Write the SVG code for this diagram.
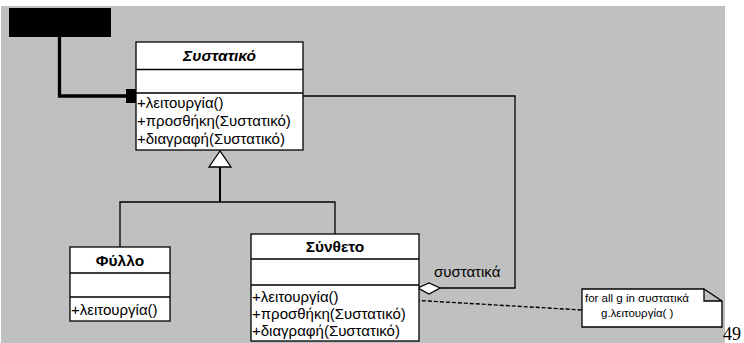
<svg xmlns="http://www.w3.org/2000/svg" width="744" height="343" viewBox="0 0 744 343">
<style>
.box{fill:#fff;stroke:#000;stroke-width:1.3}
.ln{fill:none;stroke:#000;stroke-width:1.3}
.t{font-family:"Liberation Sans",Arial,sans-serif;font-size:15px;fill:#000}
.nm{font-family:"Liberation Sans",Arial,sans-serif;font-size:15.5px;font-weight:bold;fill:#000;text-anchor:middle}
.nt{font-family:"Liberation Sans",Arial,sans-serif;font-size:11.5px;fill:#000}
</style>
<rect x="1" y="6" width="724" height="337" fill="#c0c0c0"/>
<g id="client">
<rect x="9" y="8" width="102" height="29" fill="#000"/>
</g>
<g id="connectors">
<path d="M59.5,37 V96 H130" fill="none" stroke="#000" stroke-width="3.3"/>
<rect x="126" y="89" width="13" height="14" fill="#000"/>
<path class="ln" d="M303,96 H515 V288 H440"/>
<polygon points="418,288 429,283 440,288 429,294" fill="#fff" stroke="#000" stroke-width="1.3"/>
<path d="M220,167 V202" stroke="#000" stroke-width="2" fill="none"/>
<path class="ln" d="M120,247 V202 H335 V234"/>
<polygon points="220,151 209,167 231,167" fill="#fff" stroke="#000" stroke-width="1.3"/>
<path d="M350,296.5 L582,310" stroke="#000" stroke-width="1.4" stroke-dasharray="4,2" fill="none"/>
<text class="t" x="434" y="277" font-size="13">συστατικά</text>
</g>
<g id="component">
<rect class="box" x="136" y="42" width="167" height="108"/>
<path class="ln" d="M136,69.5 H303 M136,93 H303"/>
<text class="nm" x="219.5" y="61" font-style="italic">Συστατικό</text>
<text class="t" x="137" y="108">+λειτουργία()</text>
<text class="t" x="137" y="126">+προσθήκη(Συστατικό)</text>
<text class="t" x="137" y="144">+διαγραφή(Συστατικό)</text>
</g>
<g id="leaf">
<rect class="box" x="70" y="247" width="100" height="74"/>
<path class="ln" d="M70,273 H170 M70,297 H170"/>
<text class="nm" x="120" y="265.5">Φύλλο</text>
<text class="t" x="71" y="314.5">+λειτουργία()</text>
</g>
<g id="composite">
<rect class="box" x="251" y="234" width="168" height="107"/>
<path class="ln" d="M251,259 H419 M251,285 H419"/>
<text class="nm" x="335" y="252">Σύνθετο</text>
<text class="t" x="252" y="301.5">+λειτουργία()</text>
<text class="t" x="252" y="318.5">+προσθήκη(Συστατικό)</text>
<text class="t" x="252" y="335.5">+διαγραφή(Συστατικό)</text>
</g>
<g id="note">
<path d="M582,289 H704 V301 H722 V327 H582 Z" fill="#fff"/>
<path class="ln" d="M704,289 H582 V327 H722 V301 L704,289 V301 H722"/>
<text class="nt" x="585" y="302">for all g in συστατικά</text>
<text class="nt" x="601" y="317">g.λειτουργία( )</text>
</g>
<text x="723" y="340" font-family="Liberation Serif,'Times New Roman',serif" font-size="18" fill="#000">49</text>
</svg>
